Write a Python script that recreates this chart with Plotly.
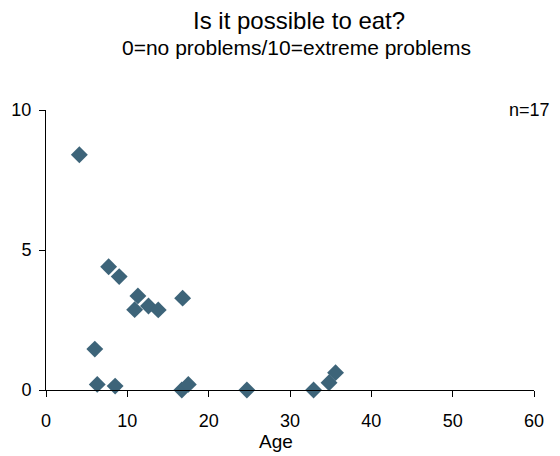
import plotly.graph_objects as go

age = [4.1, 7.7, 9.0, 11.3, 10.9, 12.6, 13.8, 16.8, 6.0, 6.3, 8.5, 16.7, 17.5, 24.7, 32.9, 34.8, 35.6]
score = [8.4, 4.4, 4.05, 3.36, 2.87, 3.0, 2.86, 3.28, 1.46, 0.2, 0.14, 0.0, 0.2, 0.0, 0.0, 0.26, 0.62]
x_ticks = [0, 10, 20, 30, 40, 50, 60]
y_ticks = [0, 5, 10]

FONT = "Liberation Sans, Arial, sans-serif"

fig = go.Figure(go.Scatter(
    x=age, y=score, mode="markers",
    marker=dict(symbol="diamond", size=13, color="#3d6479", line=dict(width=0)),
    cliponaxis=False, showlegend=False,
))

axis_common = dict(showgrid=False, zeroline=False, showline=True, linecolor="black",
                   linewidth=1, ticks="outside", ticklen=6, tickcolor="black",
                   automargin=False,
                   tickfont=dict(size=18, color="black", family=FONT))
fig.update_xaxes(range=[0, 60], tickvals=x_ticks, ticklabelstandoff=8, **axis_common)
fig.update_yaxes(range=[0, 10], tickvals=y_ticks, ticklabelstandoff=4, **axis_common)

fig.update_layout(
    width=544, height=448,
    margin=dict(l=38, r=18, t=102, b=66),
    paper_bgcolor="white", plot_bgcolor="white",
    font=dict(family=FONT, color="black"),
    annotations=[
        dict(text="Is it possible to eat?", xref="paper", yref="paper", x=0.518, y=1.0,
             yanchor="middle", yshift=90, showarrow=False, font=dict(size=24)),
        dict(text="0=no problems/10=extreme problems", xref="paper", yref="paper", x=0.514, y=1.0,
             yanchor="middle", yshift=63, showarrow=False, font=dict(size=21)),
        dict(text="n=17", xref="paper", yref="paper", x=1.036, y=1.0, xanchor="right",
             yanchor="middle", showarrow=False, font=dict(size=18)),
        dict(text="Age", xref="paper", yref="paper", x=0.471, y=0, yanchor="middle",
             yshift=-51, showarrow=False, font=dict(size=19)),
    ],
)

fig.write_html("out.html")
